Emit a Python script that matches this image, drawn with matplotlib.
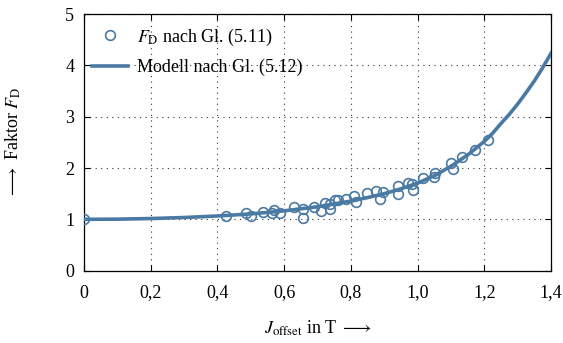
import matplotlib
matplotlib.use("Agg")
import matplotlib.pyplot as plt

plt.rcParams["font.family"] = ["Liberation Serif", "DejaVu Serif"]
plt.rcParams["mathtext.fontset"] = "stix"

# Measured demagnetisation factor F_D (Gl. 5.11)
j_meas = [0.0, 0.426, 0.485, 0.50, 0.538, 0.563, 0.57, 0.587, 0.63, 0.657,
          0.657, 0.69, 0.71, 0.722, 0.737, 0.737, 0.752, 0.76, 0.785, 0.81,
          0.815, 0.847, 0.875, 0.887, 0.897, 0.94, 0.942, 0.97, 0.982, 0.985,
          1.017, 1.05, 1.052, 1.099, 1.107, 1.132, 1.172, 1.21]
f_meas = [1.0, 1.06, 1.115, 1.07, 1.15, 1.115, 1.18, 1.13, 1.24, 1.21,
          1.03, 1.24, 1.17, 1.32, 1.30, 1.21, 1.37, 1.37, 1.40, 1.45,
          1.33, 1.52, 1.56, 1.39, 1.53, 1.49, 1.65, 1.70, 1.68, 1.58,
          1.81, 1.83, 1.90, 2.09, 1.98, 2.22, 2.35, 2.55]

# Model curve (Gl. 5.12)
j_model = [0.0, 0.1, 0.2, 0.3, 0.4, 0.5, 0.6, 0.7, 0.8, 0.85, 0.9, 0.95,
           1.0, 1.05, 1.1, 1.15, 1.2, 1.225, 1.25, 1.275, 1.3, 1.325,
           1.35, 1.375, 1.4]
f_model = [1.0, 1.003, 1.015, 1.035, 1.065, 1.105, 1.165, 1.245, 1.355, 1.425,
           1.50, 1.595, 1.705, 1.85, 2.035, 2.255, 2.52, 2.68, 2.87, 3.05,
           3.25, 3.47, 3.70, 3.96, 4.24]

x_ticks = [0.0, 0.2, 0.4, 0.6, 0.8, 1.0, 1.2, 1.4]
x_ticklabels = ["0", "0,2", "0,4", "0,6", "0,8", "1,0", "1,2", "1,4"]
y_ticks = [0, 1, 2, 3, 4, 5]
y_ticklabels = ["0", "1", "2", "3", "4", "5"]

blue = "#4a7aa3"

fig = plt.figure(figsize=(5.63, 3.43), dpi=100)
ax = fig.add_axes([0.149, 0.211, 0.830, 0.748])

ax.plot(j_meas, f_meas, linestyle="none", marker="o", markersize=7,
        markerfacecolor="none", markeredgecolor=blue, markeredgewidth=1.2,
        label=r"$F_{\mathrm{D}}$ nach Gl. (5.11)", zorder=3)
ax.plot(j_model, f_model, color=blue, linewidth=2.6,
        label="Modell nach Gl. (5.12)", zorder=4)

ax.set_xlim(0, 1.4)
ax.set_ylim(0, 5)
ax.set_xticks(x_ticks)
ax.set_xticklabels(x_ticklabels)
ax.set_yticks(y_ticks)
ax.set_yticklabels(y_ticklabels)

ax.grid(True, color="#333333", linestyle=(0, (1, 4)), linewidth=0.8)
ax.tick_params(direction="in", length=4, width=0.8, top=True, right=True,
               labelsize=13)
ax.tick_params(axis="x", pad=10)
ax.tick_params(axis="y", pad=7)
for sp in ax.spines.values():
    sp.set_linewidth(0.9)

ax.set_xlabel(r"$J_{\mathrm{offset}}$ in T $\longrightarrow$", fontsize=13,
              labelpad=12)
ax.set_ylabel(r"$\longrightarrow$ Faktor $F_{\mathrm{D}}$", fontsize=13,
              labelpad=30)

leg = ax.legend(loc="upper left", frameon=False, fontsize=13,
                handlelength=2.0, borderaxespad=0.3, labelspacing=0.6,
                handletextpad=0.5, bbox_to_anchor=(-0.01, 1.0))

fig.savefig("out.png", dpi=100)
